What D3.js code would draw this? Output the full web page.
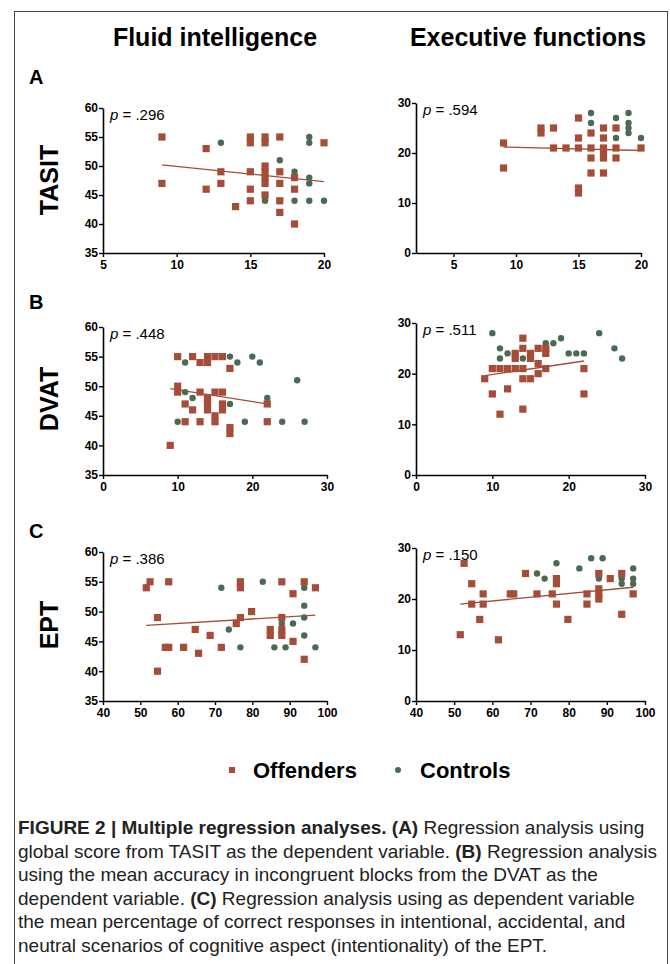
<!DOCTYPE html>
<html>
<head>
<meta charset="utf-8">
<script src="https://cdn.jsdelivr.net/npm/d3@7"></script>
<style>
  body { margin: 0; background: #fff; }
  svg text { font-family: "Liberation Sans", Arial, sans-serif; }
</style>
</head>
<body>
<div id="chart"></div>
<script>
// ---- data ----
const columnTitles = ["Fluid intelligence", "Executive functions"];
const rowLabels = ["TASIT", "DVAT", "EPT"];
const rowLetters = ["A", "B", "C"];
const pValues = [".296", ".594", ".448", ".511", ".386", ".150"];

// A: TASIT
const tasitFluidOffenders = [[9,55],[9,47],[12,53],[12,46],[13,49],[13,47],[14,43],[15,55],[15,54],[15,49],[15,46],[15,44],
  [16,55],[16,54],[16,50],[16,49],[16,48],[16,47],[16,45],[17,55],[17,49],[17,47],[17,44],[17,42],[18,48],[18,46],[18,40],[20,54]];
const tasitFluidControls = [[13,54],[16,44],[17,51],[18,49],[18,44],[19,55],[19,54],[19,48],[19,47],[19,44],[20,44]];
const tasitExecOffenders = [[9,22],[9,17],[12,25],[12,24],[13,25],[13,21],[14,21],[15,27],[15,23],[15,21],[15,13],[15,12],
  [16,24],[16,21],[16,19],[16,16],[17,25],[17,23],[17,21],[17,20],[17,19],[17,16],[18,25],[18,21],[18,19],[20,21]];
const tasitExecControls = [[16,28],[16,26],[18,27],[18,23],[19,28],[19,26],[19,25],[19,24],[20,23]];

// B: DVAT
const dvatFluidOffenders = [[9,40],[10,55],[10,50],[10,49],[11,47],[11,44],[12,55],[12,46],[13,54],[13,49],[13,44],
  [14,55],[14,54],[14,48],[14,47],[14,46],[15,55],[15,49],[15,45],[15,44],[16,55],[16,49],[16,47],[16,46],[17,53],[17,43],[17,42],[22,47],[22,44]];
const dvatFluidControls = [[10,44],[11,54],[11,49],[12,48],[17,55],[17,47],[18,54],[19,44],[20,55],[21,54],[22,48],[24,44],[26,51],[27,44]];
const dvatExecOffenders = [[9,19],[10,21],[10,16],[11,21],[11,12],[12,21],[12,17],[13,24],[13,23],[13,21],[14,27],[14,25],
  [14,21],[14,19],[14,13],[15,24],[15,23],[15,19],[16,25],[16,22],[16,20],[17,25],[17,24],[17,21],[22,21],[22,16]];
const dvatExecControls = [[10,28],[11,25],[11,23],[12,24],[14,23],[17,26],[18,26],[19,27],[20,24],[21,24],[22,24],[24,28],[26,25],[27,23]];

// C: EPT
const eptFluidOffenders = [[51.6,54],[52.6,55],[54.6,49],[54.6,40],[56.7,44],[57.6,55],[57.6,44],[61.6,44],[64.7,47],[65.6,43],
  [68.7,46],[71.7,44],[75.7,48],[76.8,55],[76.8,54],[76.8,49],[79.8,50],[84.8,47],[84.8,46],[87.9,55],[87.9,49],[87.9,47],[87.9,46],
  [90.9,53],[90.9,45],[93.9,55],[93.9,42],[96.9,54]];
const eptFluidControls = [[71.7,54],[73.7,47],[76.8,44],[82.8,55],[85.9,44],[87.9,48],[88.9,44],[90.9,48],[93.9,54],[93.9,51],[93.9,49],[93.9,46],[96.9,44]];
const eptExecOffenders = [[51.6,13],[52.6,27],[54.6,23],[54.6,19],[56.7,16],[57.6,21],[57.6,19],[61.6,12],[64.7,21],[65.6,21],
  [68.7,25],[71.7,21],[75.7,21],[76.8,24],[76.8,23],[76.8,19],[79.8,16],[84.8,21],[84.8,19],[87.9,25],[87.9,22],[87.9,21],[87.9,20],
  [90.9,24],[93.9,25],[93.9,17],[96.9,21]];
const eptExecControls = [[71.7,25],[73.7,24],[76.8,27],[82.8,26],[85.9,28],[87.9,24],[88.9,28],[93.9,24],[93.9,23],[96.9,26],[96.9,24],[96.9,23]];

// offenders' regression lines, end points
const fitLines = [
  [[9,50.2],[20,47.3]],
  [[9,21.2],[20,20.5]],
  [[9,49.6],[22,47.0]],
  [[9,19.6],[22,22.5]],
  [[51.6,47.7],[96.9,49.4]],
  [[51.6,19.0],[96.9,22.3]]
];

const xDomains = [[5,20],[2,20],[0,30],[0,30],[40,100],[40,100]];
const xTicks = [[5,10,15,20],[5,10,15,20],[0,10,20,30],[0,10,20,30],[40,50,60,70,80,90,100],[40,50,60,70,80,90,100]];
const fluidYTicks = [35,40,45,50,55,60];
const execYTicks = [0,10,20,30];

const legendLabels = ["Offenders", "Controls"];

const captionLines = [
  [["b","FIGURE 2 | Multiple regression analyses. (A)"],["n"," Regression analysis using"]],
  [["n","global score from TASIT as the dependent variable. "],["b","(B)"],["n"," Regression analysis"]],
  [["n","using the mean accuracy in incongruent blocks from the DVAT as the"]],
  [["n","dependent variable. "],["b","(C)"],["n"," Regression analysis using as dependent variable"]],
  [["n","the mean percentage of correct responses in intentional, accidental, and"]],
  [["n","neutral scenarios of cognitive aspect (intentionality) of the EPT."]]
];

// ---- drawing ----
const W = 670, H = 964;
const RED = "#a54d39", GREEN = "#4b6a53";

const svg = d3.select("#chart").append("svg")
    .attr("width", W)
    .attr("height", H);

// frame
svg.append("rect")
    .attr("x", 14.5).attr("y", 11.5)
    .attr("width", 653).attr("height", 980)
    .attr("fill", "none")
    .attr("stroke", "#444")
    .attr("stroke-width", 1);

// column titles
const titleX = [215, 528];
columnTitles.forEach((t, i) => {
    svg.append("text")
        .attr("x", titleX[i]).attr("y", 46)
        .attr("text-anchor", "middle")
        .style("font-size", "25px")
        .style("font-weight", "bold")
        .text(t);
});

const rowBottoms = [253, 475, 701];
const leftTops = [108, 327, 552];
const rightTops = [103, 323, 548];
const letterY = [84, 309, 538];
const rowLabelY = [180, 399, 625];

rowLetters.forEach((l, i) => {
    svg.append("text")
        .attr("x", 29).attr("y", letterY[i])
        .style("font-size", "20px")
        .style("font-weight", "bold")
        .text(l);
    svg.append("text")
        .attr("transform", `translate(58,${rowLabelY[i]}) rotate(-90)`)
        .attr("text-anchor", "middle")
        .style("font-size", "25px")
        .style("font-weight", "bold")
        .text(rowLabels[i]);
});

const panels = [
    [tasitFluidOffenders, tasitFluidControls],
    [tasitExecOffenders, tasitExecControls],
    [dvatFluidOffenders, dvatFluidControls],
    [dvatExecOffenders, dvatExecControls],
    [eptFluidOffenders, eptFluidControls],
    [eptExecOffenders, eptExecControls]
];

panels.forEach((pair, i) => {
    let row = Math.floor(i / 2), col = i % 2;
    let x0 = col === 0 ? 103 : 416;
    let x1 = col === 0 ? (row === 0 ? 324 : 327) : (row === 0 ? 641 : 645);
    let y0 = col === 0 ? leftTops[row] : rightTops[row];
    let y1 = rowBottoms[row];

    let x = d3.scaleLinear().domain(xDomains[i]).range([x0, x1]);
    let y = d3.scaleLinear().domain(col === 0 ? [35, 60] : [0, 30]).range([y1, y0]);

    let g = svg.append("g");

    // axes
    let xAxis = g.append("g")
        .attr("transform", `translate(0,${y1})`)
        .call(d3.axisBottom(x).tickValues(xTicks[i]).tickSize(4).tickSizeOuter(0).tickFormat(d3.format("d")));
    let yAxis = g.append("g")
        .attr("transform", `translate(${x0},0)`)
        .call(d3.axisLeft(y).tickValues(col === 0 ? fluidYTicks : execYTicks).tickSize(4).tickSizeOuter(0));

    [xAxis, yAxis].forEach(a => {
        a.select(".domain").attr("stroke", "#000").attr("stroke-width", 1.6);
        a.selectAll(".tick line").attr("stroke", "#000").attr("stroke-width", 1.4);
        a.selectAll(".tick text")
            .style("font-size", "12px")
            .style("font-weight", "bold")
            .attr("fill", "#000");
    });
    xAxis.selectAll(".tick text").attr("y", 7);
    yAxis.selectAll(".tick text").attr("x", -5);

    // fit line
    g.append("line")
        .attr("x1", x(fitLines[i][0][0])).attr("y1", y(fitLines[i][0][1]))
        .attr("x2", x(fitLines[i][1][0])).attr("y2", y(fitLines[i][1][1]))
        .attr("stroke", RED)
        .attr("stroke-width", 1.3);

    // controls
    g.selectAll("circle.ctl")
        .data(pair[1])
        .enter()
        .append("circle")
        .attr("class", "ctl")
        .attr("cx", d => x(d[0]))
        .attr("cy", d => y(d[1]))
        .attr("r", 3.2)
        .attr("fill", GREEN);

    // offenders
    g.selectAll("rect.off")
        .data(pair[0])
        .enter()
        .append("rect")
        .attr("class", "off")
        .attr("x", d => x(d[0]) - 3.6)
        .attr("y", d => y(d[1]) - 3.6)
        .attr("width", 7.2)
        .attr("height", 7.2)
        .attr("fill", RED);

    // p value
    let pt = g.append("text")
        .attr("x", x0 + 7).attr("y", y0 + 12)
        .style("font-size", "15px");
    pt.append("tspan").style("font-style", "italic").text("p");
    pt.append("tspan").text(" = " + pValues[i]);
});

// legend
const lg = svg.append("g");
lg.append("rect")
    .attr("x", 229).attr("y", 767)
    .attr("width", 6).attr("height", 6)
    .attr("fill", RED);
lg.append("text")
    .attr("x", 253).attr("y", 778)
    .style("font-size", "22px")
    .style("font-weight", "bold")
    .text(legendLabels[0]);
lg.append("circle")
    .attr("cx", 398).attr("cy", 770)
    .attr("r", 3)
    .attr("fill", GREEN);
lg.append("text")
    .attr("x", 420).attr("y", 778)
    .style("font-size", "22px")
    .style("font-weight", "bold")
    .text(legendLabels[1]);

// caption
const capBase = [834, 858, 881, 905, 928, 952];
captionLines.forEach((line, i) => {
    let t = svg.append("text")
        .attr("x", 18).attr("y", capBase[i])
        .style("font-family", "'Liberation Sans Narrow', 'Arial Narrow', sans-serif")
        .style("font-size", "19px")
        .attr("fill", "#222");
    line.forEach(seg => {
        t.append("tspan")
            .style("font-weight", seg[0] === "b" ? "bold" : "normal")
            .text(seg[1]);
    });
});
</script>
</body>
</html>
